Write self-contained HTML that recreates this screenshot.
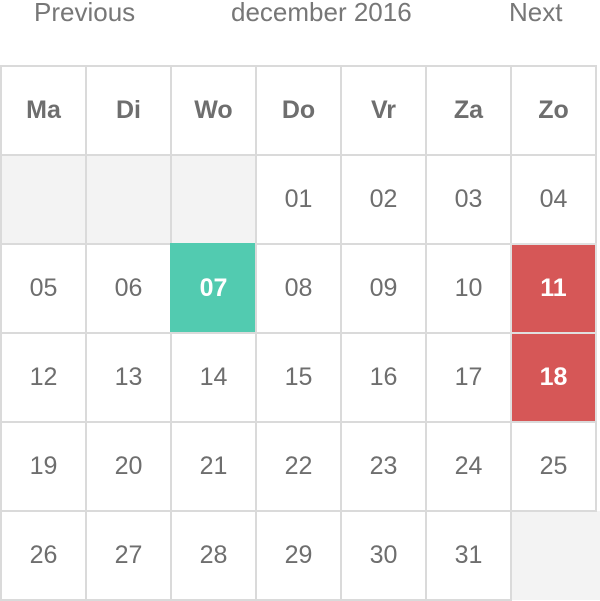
<!DOCTYPE html>
<html><head><meta charset="utf-8"><style>
body{margin:0;width:600px;height:600px;background:#fff;position:relative;overflow:hidden;font-family:"Liberation Sans",sans-serif;color:#6e6e6e}
.nav{position:absolute;top:-4px;font-size:26px;line-height:32px;color:#777}
.cell{position:absolute;box-sizing:border-box;border:2px solid #dadada;display:flex;align-items:center;justify-content:center;font-size:25px;background:#fff}
.hd{font-weight:bold;font-size:25px}
.empty{background:#f3f3f3}
.today{background:#52cbb0;color:#fff;font-weight:bold;border-color:#52cbb0}
.hol{background:#d65757;color:#fff;font-weight:bold;border-color:#e0e0e0}
</style></head><body>
<div class="nav" style="left:34px">Previous</div>
<div class="nav" style="left:231px">december 2016</div>
<div class="nav" style="left:509px">Next</div>
<div style="position:absolute;left:511px;top:511px;width:89px;height:89px;background:#f3f3f3"></div>
<div id="grid"></div>
<script>
const weekdays=["Ma","Di","Wo","Do","Vr","Za","Zo"];
const days=[null,null,null,"01","02","03","04","05","06","07","08","09","10","11","12","13","14","15","16","17","18","19","20","21","22","23","24","25","26","27","28","29","30","31"];
const today="07";
const holidays=["11","18"];
const g=document.getElementById('grid');
const X0=0,Y0=65,W=85,H=89;
function mk(col,row,txt,cls){
  const d=document.createElement('div');
  d.className='cell '+cls;
  d.style.left=(X0+col*W)+'px';d.style.top=(Y0+row*H)+'px';
  d.style.width=(W+2)+'px';d.style.height=(H+2)+'px';
  if(txt)d.textContent=txt;
  g.appendChild(d);return d;
}
weekdays.forEach((w,i)=>{const d=mk(i,0,w,'hd');

});
days.forEach((v,i)=>{
  const col=i%7,row=1+Math.floor(i/7);
  let cls=v===null?'empty':(v===today?'today':(holidays.includes(v)?'hol':''));
  const d=mk(col,row,v,cls);
  if(v===null){
  }
  else{
  }
});
</script>
</body></html>
